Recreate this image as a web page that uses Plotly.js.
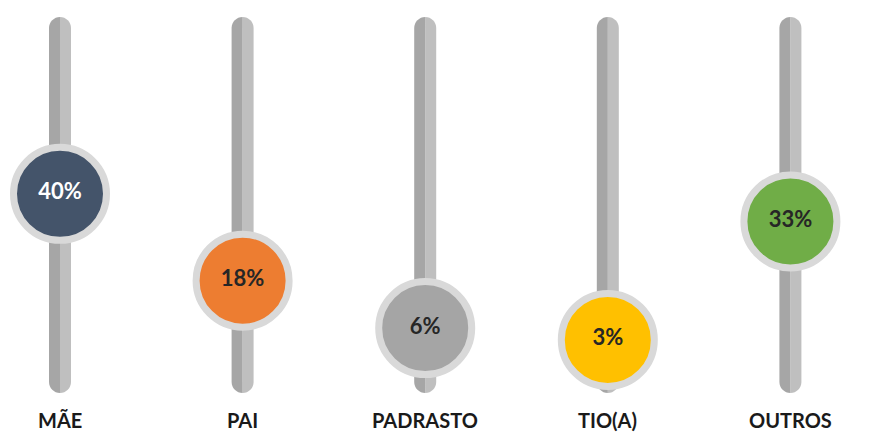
<!DOCTYPE html>
<html>
<head>
<meta charset="utf-8">
<script src="https://cdn.plot.ly/plotly-3.0.1.min.js"></script>
<style>html,body{margin:0;padding:0;background:#fff;}#chart{width:869px;height:433px;}</style>
</head>
<body>
<div id="chart"></div>
<script>
var categories = ['MÃE', 'PAI', 'PADRASTO', 'TIO(A)', 'OUTROS'];
var values = [40, 18, 6, 3, 33];
var valueLabels = ['40%', '18%', '6%', '3%', '33%'];
var knobColors = ['#44546a', '#ed7d31', '#a5a5a5', '#ffc000', '#70ad47'];
var textColors = ['#ffffff', '#262626', '#262626', '#262626', '#262626'];

var idx = categories.map(function (c, i) { return i; });

// slider tracks (two-tone, rounded ends): x in pixels around each category, y in paper units
var H = 433;
var capR = 11, capK = 6.07;
var trackTop = 1 - 17 / H, trackBot = 1 - 393 / H, capRy = capR / H, capKy = capK / H;
function fmt(v) { return Number(v).toFixed(5); }
function halfPath(s) {
  return 'M 0,' + fmt(trackTop) +
    ' C ' + (s * capK) + ',' + fmt(trackTop) + ' ' + (s * capR) + ',' + fmt(trackTop - capRy + capKy) + ' ' + (s * capR) + ',' + fmt(trackTop - capRy) +
    ' L ' + (s * capR) + ',' + fmt(trackBot + capRy) +
    ' C ' + (s * capR) + ',' + fmt(trackBot + capRy - capKy) + ' ' + (s * capK) + ',' + fmt(trackBot) + ' 0,' + fmt(trackBot) + ' Z';
}

var shapes = [];
idx.forEach(function (i) {
  shapes.push({type: 'path', xref: 'x', yref: 'paper', xsizemode: 'pixel',
    xanchor: i, path: halfPath(1), fillcolor: '#bfbfbf', line: {width: 0}, layer: 'below'});
  shapes.push({type: 'path', xref: 'x', yref: 'paper', xsizemode: 'pixel',
    xanchor: i, path: halfPath(-1), fillcolor: '#a6a6a6', line: {width: 0}, layer: 'below'});
});

var annotations = categories.map(function (c, i) {
  return {x: i, xref: 'x', y: 1 - 420 / H, yref: 'paper', text: c, showarrow: false,
    xanchor: 'center', yanchor: 'middle',
    font: {family: 'Lato, "Open Sans", sans-serif', size: 20, color: '#1a1a1a', weight: 'bold'}};
});

var knobs = {
  type: 'scatter',
  mode: 'markers+text',
  x: idx,
  y: values,
  text: valueLabels,
  textposition: 'middle center',
  textfont: {family: 'Lato, "Open Sans", sans-serif', size: 22, color: textColors, weight: 'bold'},
  marker: {size: 93, color: knobColors, line: {width: 7, color: '#d9d9d9'}, opacity: 1},
  hoverinfo: 'skip',
  cliponaxis: false
};

var layout = {
  width: 869, height: 433,
  margin: {l: 0, r: 0, t: 0, b: 0},
  paper_bgcolor: '#ffffff', plot_bgcolor: '#ffffff',
  showlegend: false,
  xaxis: {range: [-0.3286, 4.4304], showgrid: false, zeroline: false, showticklabels: false, showline: false, ticks: '', fixedrange: true},
  yaxis: {range: [-20.56, 89.06], showgrid: false, zeroline: false, showticklabels: false, showline: false, ticks: '', fixedrange: true},
  shapes: shapes,
  annotations: annotations
};

Plotly.newPlot('chart', [knobs], layout, {displayModeBar: false, staticPlot: true});
</script>
</body>
</html>
